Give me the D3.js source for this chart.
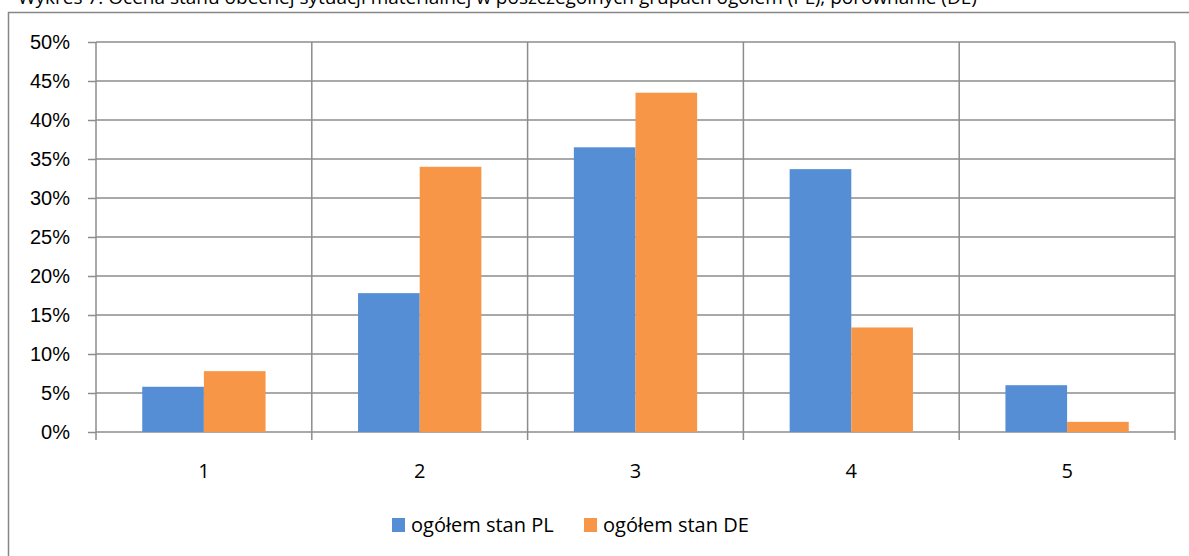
<!DOCTYPE html>
<html>
<head>
<meta charset="utf-8">
<script src="https://cdn.jsdelivr.net/npm/d3@7"></script>
<style>
  body { margin: 0; background: #fff; }
  svg { display: block; font-family: "Open Sans", "Noto Sans", sans-serif; }
</style>
</head>
<body>
<script>
// data
const categories = ['1', '2', '3', '4', '5'];
const series_names = ['ogółem stan PL', 'ogółem stan DE'];
const values_pl = [0.058, 0.178, 0.365, 0.337, 0.060];
const values_de = [0.078, 0.340, 0.435, 0.134, 0.013];
const y_ticks = [0, 0.05, 0.10, 0.15, 0.20, 0.25, 0.30, 0.35, 0.40, 0.45, 0.50];
const colors = ['#558ed5', '#f79646'];
const title_text = 'Wykres 7. Ocena stanu obecnej sytuacji materialnej w poszczególnych grupach ogółem (PL), porównanie (DE)';

const W = 1189, H = 556;
const plot = { left: 96, right: 1175, top: 42, bottom: 432 };

const svg = d3.select('body').append('svg')
  .attr('width', W)
  .attr('height', H);

// title, cut by the top edge as in the source
svg.append('text')
  .attr('x', 18)
  .attr('y', 4)
  .attr('font-size', 19)
  .attr('fill', '#000')
  .text(title_text);

// outer chart border
svg.append('rect')
  .attr('x', 8.5).attr('y', 12.5)
  .attr('width', W + 20).attr('height', H)
  .attr('fill', 'none')
  .attr('stroke', '#868686')
  .attr('stroke-width', 1.5);

const x = d3.scaleBand()
  .domain(categories)
  .range([plot.left, plot.right])
  .paddingInner(0)
  .paddingOuter(0);

const y = d3.scaleLinear()
  .domain([0, 0.5])
  .range([plot.bottom, plot.top]);

const grid_col = '#8c8c8c';

// y ticks + labels
const yAxis = d3.axisLeft(y)
  .tickValues(y_ticks)
  .tickFormat(d3.format('.0%'))
  .tickSize(8)
  .tickPadding(18);

const gy = svg.append('g')
  .attr('transform', `translate(${plot.left},0)`)
  .call(yAxis);
gy.select('.domain').remove();
gy.selectAll('line').attr('stroke', grid_col).attr('stroke-width', 1.5);
gy.selectAll('text').attr('font-size', 20).attr('fill', '#000');

// horizontal gridlines
svg.append('g').selectAll('line')
  .data(y_ticks)
  .join('line')
  .attr('x1', plot.left).attr('x2', plot.right)
  .attr('y1', d => y(d)).attr('y2', d => y(d))
  .attr('stroke', grid_col)
  .attr('stroke-width', 1.5);

// vertical gridlines at category borders
const borders = categories.map(c => x(c)).concat([plot.right]);
svg.append('g').selectAll('line')
  .data(borders)
  .join('line')
  .attr('x1', d => d).attr('x2', d => d)
  .attr('y1', plot.top).attr('y2', plot.bottom + 8)
  .attr('stroke', grid_col)
  .attr('stroke-width', 1.5);

// bars (gap width 150%)
const bw = x.bandwidth() / 3.5;
const rows = categories.map((c, i) => ({ c: c, v: [values_pl[i], values_de[i]] }));

const groups = svg.append('g').selectAll('g')
  .data(rows)
  .join('g')
  .attr('transform', d => `translate(${x(d.c) + x.bandwidth() / 2 - bw},0)`);

groups.selectAll('rect')
  .data(d => d.v)
  .join('rect')
  .attr('x', (d, i) => i * bw)
  .attr('y', d => y(d))
  .attr('width', bw)
  .attr('height', d => plot.bottom - y(d))
  .attr('fill', (d, i) => colors[i]);

// x labels
svg.append('g').selectAll('text')
  .data(categories)
  .join('text')
  .attr('x', d => x(d) + x.bandwidth() / 2)
  .attr('y', 478)
  .attr('text-anchor', 'middle')
  .attr('font-size', 20)
  .text(d => d);

// legend
const legend_x = [392, 584];
const lg = svg.append('g').selectAll('g')
  .data(series_names)
  .join('g')
  .attr('transform', (d, i) => `translate(${legend_x[i]},518)`);
lg.append('rect')
  .attr('width', 13).attr('height', 14)
  .attr('fill', (d, i) => colors[i]);
lg.append('text')
  .attr('x', 19).attr('y', 14)
  .attr('font-size', 20)
  .text(d => d);
</script>
</body>
</html>
